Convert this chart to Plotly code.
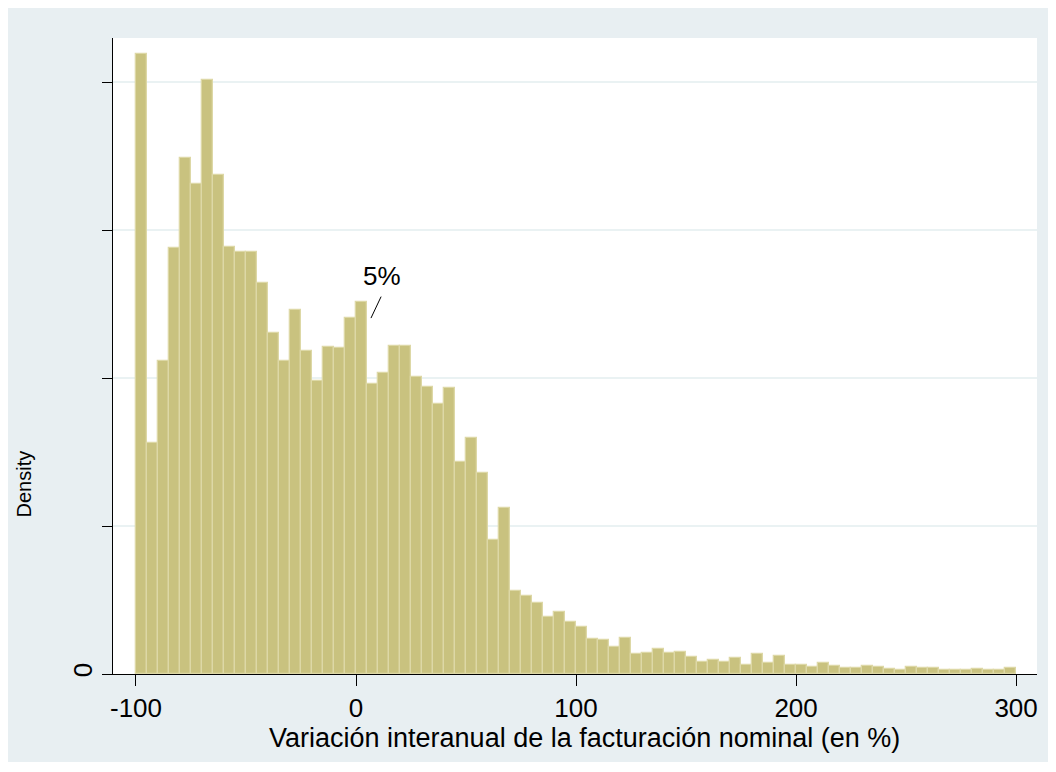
import plotly.graph_objects as go

# Bin left edges (bin width 5 percentage points) and density values
bin_width = 5
bin_starts = list(range(-100, 300, 5))
density = [
    0.008374, 0.003126, 0.004234, 0.005753, 0.006969, 0.006622, 0.008027, 0.006743,
    0.005774, 0.005707, 0.005707, 0.005280, 0.004612, 0.004234, 0.004919, 0.004365,
    0.003959, 0.004423, 0.004410, 0.004807, 0.005023, 0.003919, 0.004072, 0.004436,
    0.004436, 0.004018, 0.003874, 0.003645, 0.003861, 0.002869, 0.003193, 0.002712,
    0.001811, 0.002239, 0.001126, 0.001054, 0.000955, 0.000774, 0.000842, 0.000707,
    0.000639, 0.000473, 0.000459, 0.000361, 0.000482, 0.000270, 0.000280, 0.000334,
    0.000280, 0.000301, 0.000226, 0.000166, 0.000189, 0.000166, 0.000212, 0.000122,
    0.000270, 0.000145, 0.000243, 0.000122, 0.000122, 0.000099, 0.000145, 0.000108,
    0.000077, 0.000077, 0.000108, 0.000099, 0.000068, 0.000054, 0.000091, 0.000077,
    0.000077, 0.000054, 0.000054, 0.000054, 0.000064, 0.000054, 0.000054, 0.000077,
]
bin_centers = [s + bin_width / 2 for s in bin_starts]

x_ticks = [-100, 0, 100, 200, 300]
x_ticklabels = ["-100", "0", "100", "200", "300"]
y_ticks = [0, 0.002, 0.004, 0.006, 0.008]
y_ticklabels = ["0", "", "", "", ""]

x_title = "Variación interanual de la facturación nominal (en %)"
y_title = "Density"

annot_text = "5%"
annot_point = (6.8, 0.00481)
annot_tail = (11.4, 0.00510)

FONT = "Arial, Liberation Sans, sans-serif"
FS = 26
FS_TITLE = 27
BG = "#E8EFF2"
BAR_FILL = "#C9C27F"
BAR_LINE = "#DDD8A6"

fig = go.Figure()
fig.add_trace(go.Bar(
    x=bin_centers, y=density, width=bin_width,
    marker=dict(color=BAR_FILL, line=dict(color=BAR_LINE, width=1.3)),
    hoverinfo="x+y",
))

# page has an 8px body margin; figure occupies page px 8..1050 x 8..762
W, H = 1042, 754
ml, mr, mt, mb = 105, 13, 30, 88
pw, ph = W - ml - mr, H - mt - mb

def px_to_paper(px, py):
    return (px - ml) / pw, (H - mb - py) / ph

# annotation leader line and label
fig.add_shape(type="line", xref="x", yref="y",
              x0=annot_point[0], y0=annot_point[1], x1=annot_tail[0], y1=annot_tail[1],
              line=dict(color="black", width=1))
fig.add_annotation(x=annot_tail[0], y=annot_tail[1], text=annot_text, showarrow=False,
                   xanchor="center", yanchor="bottom", yshift=4, xshift=1,
                   font=dict(family=FONT, size=FS, color="black"))

fig.update_layout(
    width=W, height=H,
    margin=dict(l=ml, r=mr, t=mt, b=mb, autoexpand=False),
    paper_bgcolor=BG,
    plot_bgcolor="white",
    bargap=0,
    showlegend=False,
    font=dict(family=FONT, size=FS, color="black"),
)
fig.update_xaxes(
    range=[-110.45, 309.5],
    tickvals=x_ticks, ticktext=x_ticklabels,
    ticks="outside", ticklen=11, tickwidth=1, tickcolor="black",
    showline=True, linecolor="black", linewidth=1,
    showgrid=False, zeroline=False,
    tickfont=dict(family=FONT, size=FS, color="black"),
)
fig.update_yaxes(
    range=[0, 0.008595],
    tickvals=y_ticks, ticktext=y_ticklabels,
    tickangle=-90,
    ticks="outside", ticklen=10, tickwidth=1, tickcolor="black",
    showline=True, linecolor="black", linewidth=1,
    showgrid=True, gridcolor="#EAF2F3", gridwidth=2,
    zeroline=False,
    tickfont=dict(family=FONT, size=FS, color="black"),
)
# x-axis title
tx, ty = px_to_paper(576, 730)
fig.add_annotation(xref="paper", yref="paper", x=tx, y=ty, xanchor="center", yanchor="middle",
                   text=x_title, showarrow=False,
                   font=dict(family=FONT, size=FS_TITLE, color="black"))
# y-axis title (at the far left edge, as in the reference)
fig.add_annotation(xref="paper", yref="paper", x=px_to_paper(3, 0)[0], y=px_to_paper(0, 512)[1],
                   xanchor="left", text=y_title, textangle=-90, showarrow=False,
                   font=dict(family=FONT, size=FS - 6, color="black"))

fig.write_html("out.html")
